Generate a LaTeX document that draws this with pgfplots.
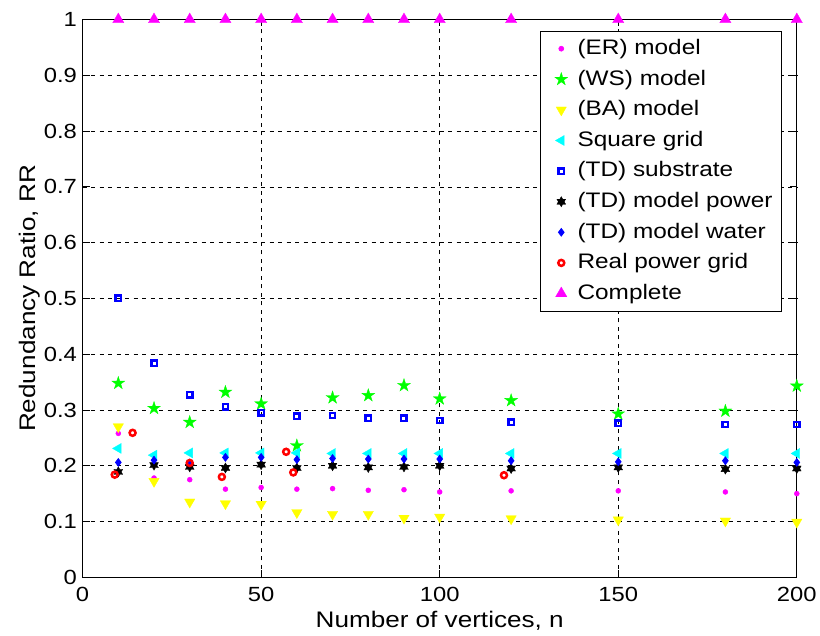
\documentclass[border=0pt]{standalone}
\usepackage{fontspec}
\setmainfont{Liberation Sans}[FakeStretch=1.16]
\usepackage{pgfplots}
\usepackage{pgfplotstable}
\pgfplotsset{compat=1.18}
\usetikzlibrary{plotmarks}

\definecolor{mmag}{rgb}{1,0,1}
\definecolor{mcyan}{rgb}{0,1,1}
\definecolor{mgreen}{rgb}{0,1,0}
\definecolor{myellow}{rgb}{1,1,0}
\definecolor{mblue}{rgb}{0,0,1}
\definecolor{mred}{rgb}{1,0,0}

\pgfdeclareplotmark{pentagram}{%
  \pgfpathmoveto{\pgfpointpolar{90}{\pgfplotmarksize}}%
  \pgfpathlineto{\pgfpointpolar{126}{0.382\pgfplotmarksize}}%
  \pgfpathlineto{\pgfpointpolar{162}{\pgfplotmarksize}}%
  \pgfpathlineto{\pgfpointpolar{198}{0.382\pgfplotmarksize}}%
  \pgfpathlineto{\pgfpointpolar{234}{\pgfplotmarksize}}%
  \pgfpathlineto{\pgfpointpolar{270}{0.382\pgfplotmarksize}}%
  \pgfpathlineto{\pgfpointpolar{306}{\pgfplotmarksize}}%
  \pgfpathlineto{\pgfpointpolar{342}{0.382\pgfplotmarksize}}%
  \pgfpathlineto{\pgfpointpolar{18}{\pgfplotmarksize}}%
  \pgfpathlineto{\pgfpointpolar{54}{0.382\pgfplotmarksize}}%
  \pgfpathclose
  \pgfusepathqfillstroke
}
\pgfdeclareplotmark{hexagram}{%
  \pgfpathmoveto{\pgfpointpolar{90}{\pgfplotmarksize}}%
  \pgfpathlineto{\pgfpointpolar{120}{0.577\pgfplotmarksize}}%
  \pgfpathlineto{\pgfpointpolar{150}{\pgfplotmarksize}}%
  \pgfpathlineto{\pgfpointpolar{180}{0.577\pgfplotmarksize}}%
  \pgfpathlineto{\pgfpointpolar{210}{\pgfplotmarksize}}%
  \pgfpathlineto{\pgfpointpolar{240}{0.577\pgfplotmarksize}}%
  \pgfpathlineto{\pgfpointpolar{270}{\pgfplotmarksize}}%
  \pgfpathlineto{\pgfpointpolar{300}{0.577\pgfplotmarksize}}%
  \pgfpathlineto{\pgfpointpolar{330}{\pgfplotmarksize}}%
  \pgfpathlineto{\pgfpointpolar{0}{0.577\pgfplotmarksize}}%
  \pgfpathlineto{\pgfpointpolar{30}{\pgfplotmarksize}}%
  \pgfpathlineto{\pgfpointpolar{60}{0.577\pgfplotmarksize}}%
  \pgfpathclose
  \pgfusepathqfillstroke
}

\pgfplotstableread{
n   ER    WS    BA    SG    TDS   TDP   TDW   CO
10  0.258 0.348 0.270 0.231 0.500 0.189 0.206 1
20  0.178 0.303 0.172 0.219 0.384 0.201 0.210 1
30  0.175 0.278 0.135 0.223 0.327 0.198 0.205 1
40  0.158 0.332 0.132 0.223 0.306 0.196 0.215 1
50  0.161 0.311 0.131 0.223 0.295 0.202 0.215 1
60  0.158 0.236 0.116 0.223 0.289 0.196 0.211 1
70  0.159 0.322 0.113 0.222 0.290 0.200 0.213 1
80  0.156 0.326 0.113 0.222 0.285 0.197 0.212 1
90  0.157 0.344 0.106 0.222 0.285 0.198 0.212 1
100 0.153 0.320 0.108 0.222 0.281 0.200 0.212 1
120 0.155 0.317 0.105 0.222 0.278 0.195 0.209 1
150 0.155 0.293 0.103 0.222 0.276 0.197 0.207 1
180 0.153 0.298 0.101 0.222 0.274 0.194 0.209 1
200 0.150 0.343 0.099 0.222 0.274 0.195 0.206 1
}\data

\pgfplotstableread{
n   RP
9   0.184
14  0.259
30  0.205
39  0.180
57  0.225
59  0.188
118 0.183
}\real

\begin{document}
\begin{tikzpicture}
\path[use as bounding box] (-82.6bp,-58.7bp) rectangle (737.4bp,577.3bp);
\begin{axis}[
  at={(0,0)}, anchor=south west,
  scale only axis, width=714.2bp, height=557.8bp,
  xmin=0, xmax=200, ymin=0, ymax=1,
  clip=false,
  xtick={0,50,100,150,200},
  xticklabels={0,50,100,150,200},
  ytick={0,0.1,0.2,0.3,0.4,0.5,0.6,0.7,0.8,0.9,1},
  yticklabels={0,0.1,0.2,0.3,0.4,0.5,0.6,0.7,0.8,0.9,1},
  extra x ticks={50,100,150},
  extra x tick labels={},
  extra y ticks={0.1,0.2,0.3,0.4,0.5,0.6,0.7,0.8,0.9},
  extra y tick labels={},
  extra tick style={grid=major},
  /pgf/number format/assume math mode=true,
  tick align=inside,
  major tick length=7bp,
  grid style={black, line width=0.5bp, dash pattern=on 4bp off 4.5bp},
  axis line style={black, line width=0.9bp},
  every tick/.style={black, line width=0.9bp},
  tick label style={font=\fontsize{20.5bp}{24bp}\selectfont},
  xticklabel style={anchor=north, inner sep=0pt, yshift=-9.5bp},
  yticklabel style={anchor=east, inner sep=0pt, xshift=-5.5bp},
  xlabel={Number of vertices, n},
  ylabel={Redundancy Ratio, RR},
  label style={font=\fontsize{22.5bp}{26bp}\selectfont},
  xlabel style={at={(axis description cs:0.5,-0.0898)}, anchor=base},
  ylabel style={at={(axis description cs:-0.0665,0.5)}, anchor=base},
  legend cell align=left,
  legend style={at={(axis description cs:0.979,0.980)}, anchor=north east,
    draw=black, line width=0.6bp, fill=white,
    inner xsep=9bp, inner ysep=7bp, row sep=9.1bp,
    font=\fontsize{21bp}{25bp}\selectfont,
    nodes={inner sep=0pt, text height=16.5bp, text depth=5bp},
    /tikz/every odd column/.append style={column sep=6bp}},
  every axis plot/.append style={only marks,
    legend image code/.code={\path (0bp,0bp) (22bp,0bp);\draw[mark repeat=2,mark phase=2,##1] plot coordinates {(0bp,0bp) (12bp,0bp) (24bp,0bp)};}},
]
\addplot[mmag, mark=*, mark size=2.5bp] table[x=n,y=ER]{\data};
\addlegendentry{(ER) model}
\addplot[mgreen, mark=pentagram, mark size=6.8bp, mark options={line width=0.3bp}] table[x=n,y=WS]{\data};
\addlegendentry{(WS) model}
\addplot[myellow, mark=triangle*, mark size=6bp, mark options={rotate=180, line width=0.3bp}] table[x=n,y=BA]{\data};
\addlegendentry{(BA) model}
\addplot[mcyan, mark=triangle*, mark size=5.8bp, mark options={rotate=90, line width=0.3bp}] table[x=n,y=SG]{\data};
\addlegendentry{Square grid}
\addplot[mblue, mark=square, mark size=2.7bp, mark options={line width=2.4bp}] table[x=n,y=TDS]{\data};
\addlegendentry{(TD) substrate}
\addplot[black, mark=hexagram, mark size=5.1bp, mark options={line width=0.3bp}] table[x=n,y=TDP]{\data};
\addlegendentry{(TD) model power}
\addplot[mblue, mark=diamond*, mark size=3.8bp, mark options={line width=0.8bp, fill=mblue}] table[x=n,y=TDW]{\data};
\addlegendentry{(TD) model water}
\addplot[mred, mark=o, mark size=3.0bp, mark options={line width=2.5bp}] table[x=n,y=RP]{\real};
\addlegendentry{Real power grid}
\addplot[mmag, mark=triangle*, mark size=6.5bp, mark options={line width=0.3bp}] table[x=n,y=CO]{\data};
\addlegendentry{Complete}
\end{axis}
\end{tikzpicture}
\end{document}
